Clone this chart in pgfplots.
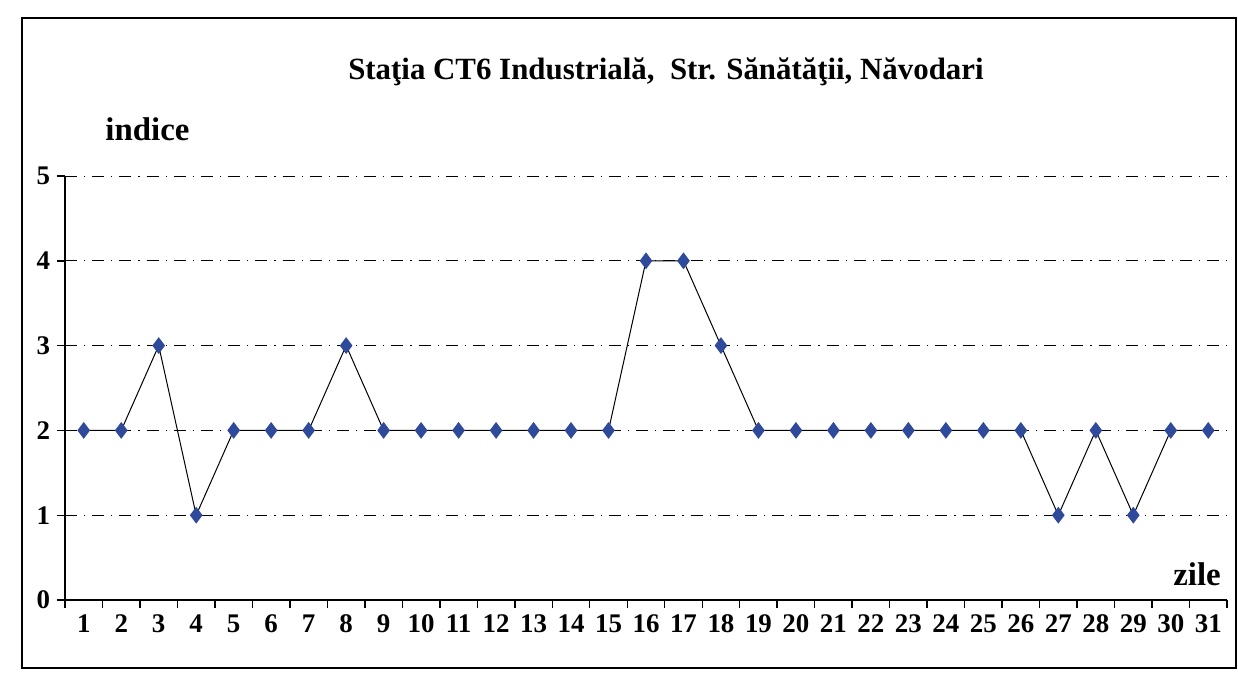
\documentclass[border=0pt]{standalone}
\usepackage{pgfplots}
\pgfplotsset{compat=1.18}
\usepackage{fontspec}
\setmainfont{Liberation Serif}
\definecolor{markblue}{HTML}{2F4A9A}
\begin{document}
\begin{tikzpicture}
\path[use as bounding box] (0bp,0bp) rectangle (619bp,345bp);
\draw[line width=0.9bp] (11bp,11bp) rectangle (618bp,336bp);
\node[font=\bfseries\fontsize{15.5}{18}\selectfont] at (333bp,309bp) {Staţia CT6 Industrială,\ \ Str. Sănătăţii, Năvodari};
\begin{axis}[
  at={(32.5bp,45bp)}, anchor=south west,
  scale only axis, width=581bp, height=212bp,
  xmin=0.5, xmax=31.5, ymin=0, ymax=5,
  axis lines*=left,
  axis line style={-, line width=0.7bp},
  xtick={1,...,31},
  minor xtick={0.5,1.5,...,31.5},
  ytick={0,...,5},
  tick align=outside,
  major tick length=4bp,
  minor tick length=4bp,
  major x tick style={draw=none},
  tick style={line width=0.7bp, black},
  ymajorgrids,
  grid style={black, line width=0.5bp, dash pattern=on 6bp off 3.5bp on 0.6bp off 3.5bp},
  ticklabel style={font=\bfseries\fontsize{13.5}{15}\selectfont},
  /pgf/number format/assume math mode=true,
  clip=false,
]
\addplot[black, line width=0.5bp, mark=diamond*, mark size=3.8bp,
  mark options={fill=markblue, draw=markblue}]
coordinates {
(1,2)(2,2)(3,3)(4,1)(5,2)(6,2)(7,2)(8,3)(9,2)(10,2)
(11,2)(12,2)(13,2)(14,2)(15,2)(16,4)(17,4)(18,3)(19,2)(20,2)
(21,2)(22,2)(23,2)(24,2)(25,2)(26,2)(27,1)(28,2)(29,1)(30,2)(31,2)
};
\node[font=\bfseries\fontsize{16.5}{18}\selectfont] at (axis cs:2.7,5.55) {indice};
\node[font=\bfseries\fontsize{16.5}{18}\selectfont] at (axis cs:30.7,0.3) {zile};
\end{axis}
\end{tikzpicture}
\end{document}
